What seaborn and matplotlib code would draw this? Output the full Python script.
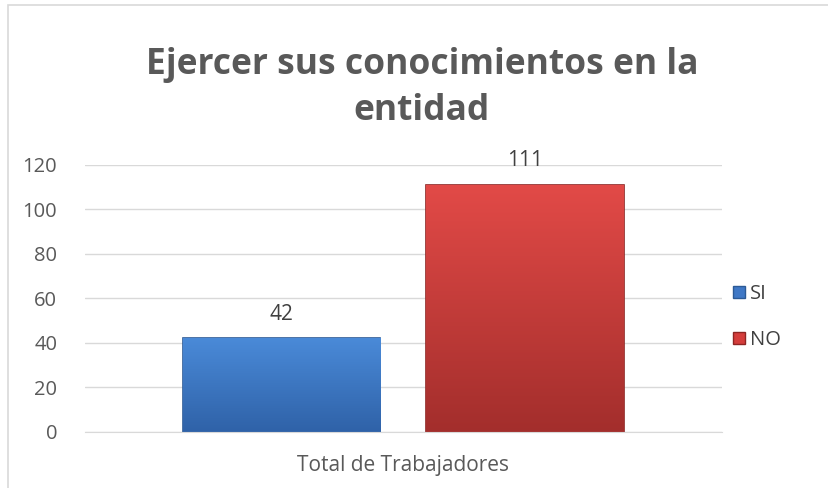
import numpy as np
import pandas as pd
import matplotlib.pyplot as plt
import seaborn as sns
from matplotlib.colors import LinearSegmentedColormap
from matplotlib.patches import Rectangle

# Chart data
categoria = ['Total de Trabajadores']
respuestas = ['SI', 'NO']
valores = [42, 111]

df = pd.DataFrame({'Categoria': categoria * len(respuestas),
                   'Respuesta': respuestas,
                   'Valor': valores})

sns.set_style('white')
plt.rcParams['font.family'] = ['Open Sans', 'DejaVu Sans']

fig = plt.figure(figsize=(8.29, 4.88), dpi=100)
ax = fig.add_axes([0.1025, 0.115, 0.768, 0.547])

colores = {'SI': '#3f78c6', 'NO': '#d43d3b'}
bordes = {'SI': '#2c5a96', 'NO': '#8e2523'}
degradados = {'SI': ['#4a8ad8', '#2f62a8'], 'NO': ['#e24a47', '#a32e2c']}
sns.barplot(data=df, x='Categoria', y='Valor', hue='Respuesta', palette=colores,
            width=0.766, gap=0.19, saturation=1, ax=ax, legend=True)

# vertical gradient on each bar, clipped to the bar shape
grad = np.linspace(0, 1, 256).reshape(-1, 1)
for patch, resp in zip(ax.patches, respuestas):
    patch.set_edgecolor(bordes[resp])
    patch.set_linewidth(1.2)
    x0, y0 = patch.get_x(), patch.get_y()
    w, h = patch.get_width(), patch.get_height()
    cmap = LinearSegmentedColormap.from_list(resp, degradados[resp][::-1])
    im = ax.imshow(grad, cmap=cmap, extent=[x0, x0 + w, y0, y0 + h], origin='lower',
                   aspect='auto', zorder=patch.get_zorder() + 0.1)
    im.set_clip_path(patch)

for cont in ax.containers:
    ax.bar_label(cont, padding=10, fontsize=15, color='#404040')

ax.set_ylim(0, 120)
ax.set_yticks(range(0, 121, 20))
ax.set_xlim(-0.5, 0.5)
ax.yaxis.grid(True, color='#d9d9d9', linewidth=1)
ax.set_axisbelow(True)
for s in ['top', 'right', 'left']:
    ax.spines[s].set_visible(False)
ax.spines['bottom'].set_color('#d9d9d9')
ax.tick_params(axis='y', labelsize=14.5, labelcolor='#595959', length=0, pad=20)
ax.tick_params(axis='x', labelsize=15, labelcolor='#595959', length=0, pad=17)
ax.set_xlabel('')
ax.set_ylabel('')

leg = ax.legend(loc='center left', bbox_to_anchor=(0.99, 0.43), frameon=False,
                fontsize=14.5, labelspacing=1.3, handlelength=0.6, handleheight=0.6,
                handletextpad=0.2, labelcolor='#404040')
for h, resp in zip(leg.legend_handles, respuestas):
    h.set_edgecolor(bordes[resp])

fig.text(0.509, 0.82, 'Ejercer sus conocimientos en la\nentidad', ha='center', va='center',
         fontsize=25.5, fontweight='bold', color='#595959', linespacing=1.35)

fig.patches.append(Rectangle((0.01, -0.01), 1.0, 1.0, transform=fig.transFigure,
                             fill=False, edgecolor='#d9d9d9', linewidth=1.2))

plt.savefig('out.png', dpi=100)
